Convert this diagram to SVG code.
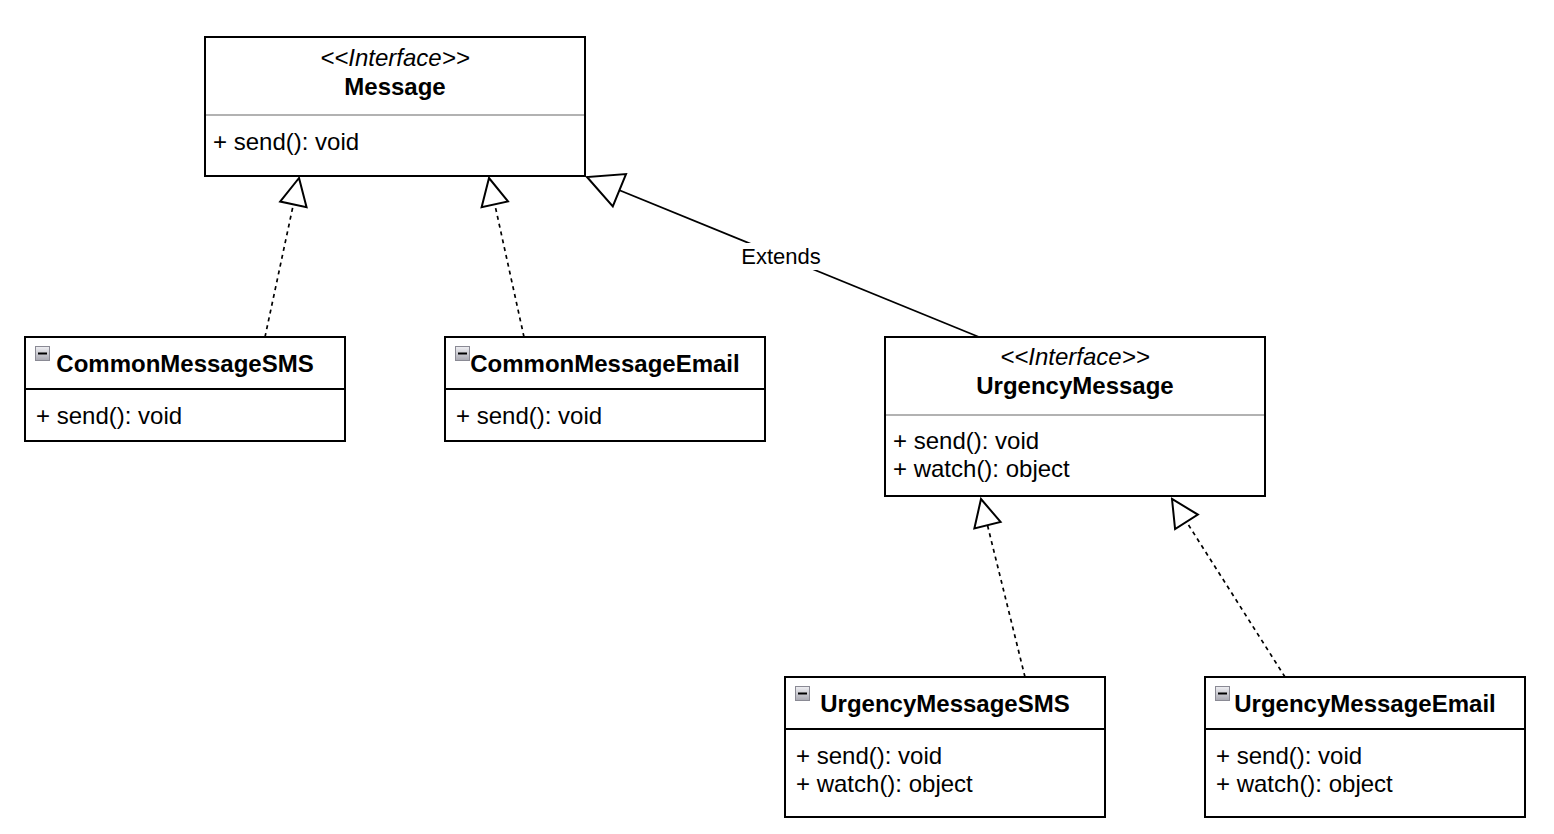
<svg xmlns="http://www.w3.org/2000/svg" width="1554" height="834" viewBox="0 0 1554 834">
<style>
.box{fill:#fff;stroke:#000;stroke-width:2}
.div{stroke:#000;stroke-width:2}
.gdiv{stroke:#999;stroke-width:1.5}
.t{font-family:"Liberation Sans",Arial,sans-serif;font-size:24px;fill:#000}
.b{font-weight:bold}
.i{font-style:italic}
.c{text-anchor:middle}
.dash{fill:none;stroke:#000;stroke-width:1.7;stroke-dasharray:4 4;marker-end:url(#tri)}
.solid{fill:none;stroke:#000;stroke-width:1.7;marker-end:url(#triBig)}
.lbl{font-family:"Liberation Sans",Arial,sans-serif;font-size:22px;fill:#000;text-anchor:middle}
.ico{fill:url(#icog);stroke:#8a8a94;stroke-width:1}
.minus{stroke:#000;stroke-width:2}
</style>
<defs>
<linearGradient id="icog" x1="0" y1="0" x2="0" y2="1">
<stop offset="0" stop-color="#f0f0f4"/>
<stop offset="1" stop-color="#a9a9b2"/>
</linearGradient>
<marker id="tri" viewBox="-30 -16 32 32" refX="0" refY="0" markerWidth="32" markerHeight="32" markerUnits="userSpaceOnUse" orient="auto">
<path d="M0,0 L-27,-13.5 L-27,13.5 Z" fill="#fff" stroke="#000" stroke-width="2" stroke-linejoin="miter"/>
</marker>
<marker id="triBig" viewBox="-38 -20 40 40" refX="0" refY="0" markerWidth="40" markerHeight="40" markerUnits="userSpaceOnUse" orient="auto">
<path d="M0,0 L-35,-17.5 L-35,17.5 Z" fill="#fff" stroke="#000" stroke-width="2" stroke-linejoin="miter"/>
</marker>
</defs>
<rect width="1554" height="834" fill="#fff"/>

<g id="connectors">
<path class="dash" d="M265,337 L299,178"/>
<path class="dash" d="M524,337 L489,178"/>
<path class="solid" d="M979,337 L587,177"/>
<path class="dash" d="M1025,677 L981,499"/>
<path class="dash" d="M1285,677 L1172,499"/>
<rect x="740" y="243" width="82" height="27" fill="#fff"/>
<text class="lbl" x="781" y="264">Extends</text>
</g>

<g id="Message">
<rect class="box" x="205" y="37" width="380" height="139"/>
<line class="gdiv" x1="206" y1="115" x2="584" y2="115"/>
<text class="t i c" x="395" y="66">&lt;&lt;Interface&gt;&gt;</text>
<text class="t b c" x="395" y="95">Message</text>
<text class="t" x="213" y="150">+ send(): void</text>
</g>

<g id="CommonMessageSMS">
<rect class="box" x="25" y="337" width="320" height="104"/>
<line class="div" x1="25" y1="389" x2="345" y2="389"/>
<rect class="ico" x="35.5" y="346.5" width="14" height="14"/>
<line class="minus" x1="38" y1="353.5" x2="47" y2="353.5"/>
<text class="t b c" x="185" y="372">CommonMessageSMS</text>
<text class="t" x="36" y="424">+ send(): void</text>
</g>

<g id="CommonMessageEmail">
<rect class="box" x="445" y="337" width="320" height="104"/>
<line class="div" x1="445" y1="389" x2="765" y2="389"/>
<rect class="ico" x="455.5" y="346.5" width="14" height="14"/>
<line class="minus" x1="458" y1="353.5" x2="467" y2="353.5"/>
<text class="t b c" x="605" y="372">CommonMessageEmail</text>
<text class="t" x="456" y="424">+ send(): void</text>
</g>

<g id="UrgencyMessage">
<rect class="box" x="885" y="337" width="380" height="159"/>
<line class="gdiv" x1="886" y1="415" x2="1264" y2="415"/>
<text class="t i c" x="1075" y="365">&lt;&lt;Interface&gt;&gt;</text>
<text class="t b c" x="1075" y="394">UrgencyMessage</text>
<text class="t" x="893" y="449">+ send(): void</text>
<text class="t" x="893" y="477">+ watch(): object</text>
</g>

<g id="UrgencyMessageSMS">
<rect class="box" x="785" y="677" width="320" height="140"/>
<line class="div" x1="785" y1="729" x2="1105" y2="729"/>
<rect class="ico" x="795.5" y="686.5" width="14" height="14"/>
<line class="minus" x1="798" y1="693.5" x2="807" y2="693.5"/>
<text class="t b c" x="945" y="712">UrgencyMessageSMS</text>
<text class="t" x="796" y="764">+ send(): void</text>
<text class="t" x="796" y="792">+ watch(): object</text>
</g>

<g id="UrgencyMessageEmail">
<rect class="box" x="1205" y="677" width="320" height="140"/>
<line class="div" x1="1205" y1="729" x2="1525" y2="729"/>
<rect class="ico" x="1215.5" y="686.5" width="14" height="14"/>
<line class="minus" x1="1218" y1="693.5" x2="1227" y2="693.5"/>
<text class="t b c" x="1365" y="712">UrgencyMessageEmail</text>
<text class="t" x="1216" y="764">+ send(): void</text>
<text class="t" x="1216" y="792">+ watch(): object</text>
</g>
</svg>
